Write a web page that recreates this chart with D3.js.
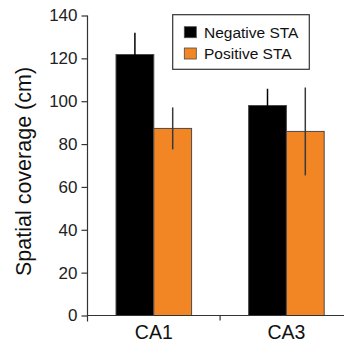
<!DOCTYPE html>
<html>
<head>
<meta charset="utf-8">
<script src="https://cdn.jsdelivr.net/npm/d3@7"></script>
<style>
  html, body { margin: 0; padding: 0; background: #fff; }
  svg { display: block; font-family: "Liberation Sans", Arial, Helvetica, sans-serif; }
</style>
</head>
<body>
<svg id="chart" width="344" height="349"></svg>
<script>
// Spatial coverage by region, split by STA sign
const regions = ["CA1", "CA3"];
const seriesNames = ["Negative STA", "Positive STA"];
const seriesColors = ["#000000", "#F28524"];
const negativeMean = [121.8, 98.0];
const negativeErr = [10.2, 7.8];
const positiveMean = [87.3, 85.9];
const positiveErr = [9.8, 20.5];
const yTicks = [0, 20, 40, 60, 80, 100, 120, 140];

const svg = d3.select("#chart");
const axisColor = "#333";

const x = d3.scaleBand().domain(regions).range([87.5, 352.7]).paddingInner(0).paddingOuter(0);
const y = d3.scaleLinear().domain([0, 140]).range([315.5, 15.5]);
const barW = x.bandwidth() * 0.285;

const series = [
  { name: seriesNames[0], color: seriesColors[0], mean: negativeMean, err: negativeErr, offset: -1 },
  { name: seriesNames[1], color: seriesColors[1], mean: positiveMean, err: positiveErr, offset: 0 }
];

// bars
series.forEach(s => {
  svg.append("g").selectAll("rect")
    .data(regions)
    .join("rect")
    .attr("x", (d) => x(d) + x.bandwidth() / 2 + s.offset * barW)
    .attr("y", (d, i) => y(s.mean[i]))
    .attr("width", barW)
    .attr("height", (d, i) => y(0) - y(s.mean[i]))
    .attr("fill", s.color)
    .attr("stroke", "#4a4a4a")
    .attr("stroke-width", 1);
});

// error bars (upper and lower whiskers, centred on each bar)
series.forEach(s => {
  svg.append("g").selectAll("line")
    .data(regions)
    .join("line")
    .attr("x1", (d) => x(d) + x.bandwidth() / 2 + s.offset * barW + barW / 2)
    .attr("x2", (d) => x(d) + x.bandwidth() / 2 + s.offset * barW + barW / 2)
    .attr("y1", (d, i) => y(s.mean[i] + s.err[i]))
    .attr("y2", (d, i) => y(s.mean[i] - s.err[i]))
    .attr("stroke", s.offset < 0 ? "#000" : "#3a3a3a")
    .attr("stroke-width", 1.5);
});

// y axis
const yAxis = svg.append("g")
  .attr("transform", `translate(${x.range()[0]},0)`)
  .call(d3.axisLeft(y).tickValues(yTicks).tickSize(6).tickSizeOuter(0).tickPadding(4));
yAxis.select(".domain").attr("stroke", axisColor).attr("stroke-width", 1.2)
  .attr("d", `M0,${y(140)}V${y(0) + 6}`);
yAxis.selectAll(".tick line").attr("stroke", axisColor).attr("stroke-width", 1.2);
yAxis.selectAll(".tick text").attr("fill", "#222").style("font-size", "17px");

// x axis with category labels
const xAxis = svg.append("g")
  .attr("transform", `translate(0,${y(0)})`)
  .call(d3.axisBottom(x).tickSize(0).tickPadding(10));
xAxis.select(".domain").attr("stroke", axisColor).attr("stroke-width", 1.2)
  .attr("d", `M${x.range()[0]},0H344`);
xAxis.selectAll(".tick text").attr("fill", "#111").style("font-size", "19.5px");

// separator tick between the two regions
xAxis.append("line")
  .attr("x1", x("CA3")).attr("x2", x("CA3"))
  .attr("y1", 0).attr("y2", 5)
  .attr("stroke", axisColor).attr("stroke-width", 1.2);

// y axis title
svg.append("text")
  .attr("transform", `translate(31,${(y(0) + y(140)) / 2 + 6}) rotate(-90)`)
  .attr("text-anchor", "middle")
  .attr("fill", "#111")
  .style("font-size", "21.5px")
  .text("Spatial coverage (cm)");

// legend
const legend = svg.append("g").attr("transform", "translate(172.7,14.7)");
legend.append("rect")
  .attr("width", 136.6).attr("height", 54.6)
  .attr("fill", "#fff").attr("stroke", "#333").attr("stroke-width", 1.2);
series.forEach((s, i) => {
  const row = legend.append("g").attr("transform", `translate(11.6,${12 + i * 21.3})`);
  row.append("rect").attr("width", 12).attr("height", 11)
    .attr("fill", s.color).attr("stroke", "#4a4a4a").attr("stroke-width", 0.8);
  row.append("text").attr("x", 19.7).attr("y", 11)
    .attr("fill", "#111").style("font-size", "15.5px").text(s.name);
});
</script>
</body>
</html>
